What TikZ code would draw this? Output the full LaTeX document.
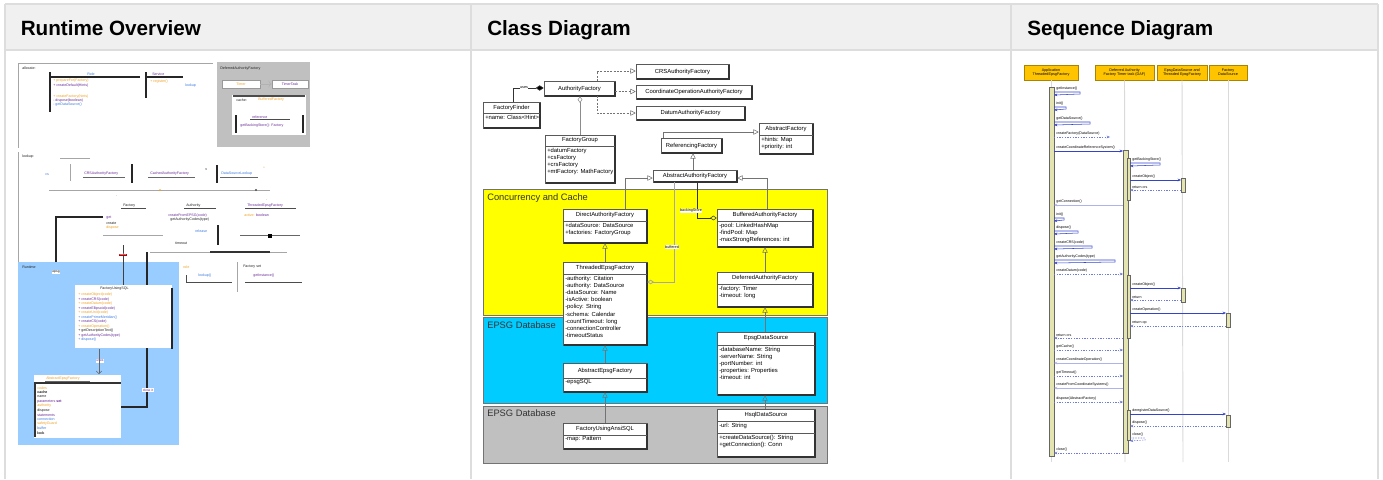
\documentclass[tikz,border=0pt]{standalone}
\usepackage{fontspec}
\setmainfont{Liberation Sans}
\usetikzlibrary{arrows.meta}
\definecolor{tblborder}{HTML}{DDDDDD}
\definecolor{headbg}{HTML}{F0F0F0}
\definecolor{bandyellow}{HTML}{FFFF00}
\definecolor{bandcyan}{HTML}{00CCFF}
\definecolor{bandgray}{HTML}{C0C0C0}
\definecolor{areablue}{HTML}{99CCFF}
\definecolor{headgold}{HTML}{FFC400}
\definecolor{headedge}{HTML}{A88400}
\definecolor{actfill}{HTML}{E4E4B0}
\definecolor{msgblue}{HTML}{3344CC}
\definecolor{tpurple}{HTML}{6A2A9A}
\definecolor{torange}{HTML}{F0A020}
\definecolor{tblue}{HTML}{3A7AE0}
\definecolor{lifegray}{HTML}{DADADA}
\definecolor{tdark}{HTML}{202020}

\tikzset{
  hdr/.style={font=\fontsize{15.5}{18}\selectfont\bfseries, anchor=base west, inner sep=0},
  tiny/.style={font=\fontsize{2.7}{3.2}\selectfont, inner sep=0, anchor=west},
  ctxt/.style={font=\fontsize{4.4}{5.4}\selectfont, inner sep=0},
  bandlbl/.style={font=\fontsize{7}{8}\selectfont, inner sep=0, anchor=north west, text=black!80},
  clsbox/.style={draw=black!65, fill=white, line width=0.4pt, inner sep=0},
  shadowline/.style={draw=black!80, line width=0.9pt},
  sepline/.style={draw=black!65, line width=0.4pt},
  realize/.style={draw=black!55, dashed, dash pattern=on 1.5pt off 1pt, line width=0.4pt, -{Triangle[open, length=4pt, width=4pt]}},
  inherit/.style={draw=black!55, line width=0.4pt, -{Triangle[open, length=4pt, width=4pt]}},
  aggr/.style={draw=black!45, line width=0.4pt, -{Diamond[open, length=5pt, width=3.5pt]}},
  compo/.style={draw=black!80, line width=0.5pt, -{Diamond[fill=black, length=6pt, width=4pt]}},
  thickblk/.style={draw=black!85, line width=1.1pt},
  thingray/.style={draw=black!35, line width=0.6pt},
  lhead/.style={draw=headedge, fill=headgold, line width=0.6pt, inner sep=0, font=\fontsize{2.8}{3.3}\selectfont, align=center},
  lifeln/.style={draw=lifegray, line width=0.7pt},
  actbar/.style={draw=black!60, fill=actfill, line width=0.4pt},
  msg/.style={draw=msgblue, line width=0.4pt, -{Stealth[length=2.5pt, width=2pt]}},
  rmsg/.style={draw=msgblue!70, line width=0.4pt, dash pattern=on 1pt off 1pt, -{Stealth[length=2.5pt, width=2pt]}},
  mlbl/.style={font=\fontsize{2.7}{3.2}\selectfont, inner sep=0, anchor=south west},
}

\newcommand\umlbox[8]{%
  \node[clsbox, minimum width={(#4-#2)*0.75pt}, minimum height={(#5-#3)*0.75pt}] (#1) at ({(#2+#4)/2},{(#3+#5)/2}) {};
  \draw[shadowline] (#4,{#3+1}) -- (#4,#5) -- ({#2+1},#5);
  \node[ctxt] (#1-t) at ({(#2+#4)/2},{(#3+#6)/2}) {#7};
  \draw[sepline] (#2,#6) -- (#4,#6);
  \node[ctxt, anchor=north west, align=left] (#1-a) at ({#2+2},{#6+1.5}) {#8};
}
\newcommand\titlebox[6]{%
  \node[clsbox, ctxt, minimum width={(#4-#2)*0.75pt}, minimum height={(#5-#3)*0.75pt}] (#1) at ({(#2+#4)/2},{(#3+#5)/2}) {#6};
  \draw[shadowline] (#4,{#3+1}) -- (#4,#5) -- ({#2+1},#5);
}
\newcommand\tx[5]{\node[tiny, text=#4] (#1) at (#2,#3) {#5};}

\begin{document}
\begin{tikzpicture}[x=0.75pt, y=-0.75pt]
\useasboundingbox (0,0) rectangle (1383,479);
\fill[white] (0,0) rectangle (1383,479);

% ---------------- table ----------------
\fill[headbg] (5,4) rectangle (1378,50);
\draw[tblborder, line width=1.4pt] (5,4) -- (1378,4);
\draw[tblborder, line width=1.4pt] (5,50) -- (1378,50);
\draw[tblborder, line width=1.4pt] (5,4) -- (5,479);
\draw[tblborder, line width=1.4pt] (471,4) -- (471,479);
\draw[tblborder, line width=1.4pt] (1011,4) -- (1011,479);
\draw[tblborder, line width=1.4pt] (1378,4) -- (1378,479);
\node[hdr] (h1) at (20.5,35) {Runtime Overview};
\node[hdr] (h2) at (487,35) {Class Diagram};
\node[hdr] (h3) at (1027,35) {Sequence Diagram};

% ================= Runtime overview =================
% panel A
\draw[thingray] (18,148) -- (18,63) -- (213,63);
\tx{ra1}{22}{68}{tdark}{allocate:}
\draw[thickblk] (50,72) -- (50,112);
\draw[thickblk] (50,77) -- (140,77);
\tx{ra2}{87}{74}{tblue}{Role}
\tx{ra3}{53}{81}{torange}{+ prepareFor(Factory)}
\tx{ra4}{53}{86}{tpurple}{+ createDefault(Hints)}
\tx{ra5}{53}{97}{torange}{+ createFactory(hints)}
\tx{ra6}{53}{101}{tpurple}{- dispose(boolean)}
\tx{ra7}{53}{105}{tblue}{- getDataSource()}
\draw[thickblk] (146,72) -- (146,98);
\draw[thickblk] (146,77) -- (183,77);
\tx{ra8}{152}{74}{tpurple}{Service}
\tx{ra9}{150}{82}{torange}{+ register()}
\tx{ra10}{185}{86}{tblue}{lookup}
% gray panel
\fill[bandgray] (217,62) rectangle (310,147);
\tx{rg1}{220}{69}{tdark}{DeferredAuthorityFactory}
\node[draw=black!40, fill=white, minimum width=28.5pt, minimum height=6pt, inner sep=0, font=\fontsize{2.7}{3}\selectfont, text=torange] (rgb1) at (241,84) {Timer};
\node[draw=black!40, fill=white, minimum width=27pt, minimum height=6pt, inner sep=0, font=\fontsize{2.7}{3}\selectfont, text=tpurple] (rgb2) at (290,84) {TimerTask};
\draw[black!30, ->] (rgb1) -- (rgb2);
\fill[white] (232,95) rectangle (306,135);
\draw[black!70, line width=1pt] (233,96) -- (305,96);
\tx{rg2}{236}{100}{tdark}{cache:}
\tx{rg3}{258}{100}{torange}{BufferedFactory}
\draw[thickblk] (236,115) -- (236,133);
\draw[thickblk] (303,115) -- (303,133);
\tx{rg4}{252}{117}{tpurple}{reference}
\draw[black!70, line width=0.6pt] (250,119) -- (290,119);
\tx{rg5}{240}{126}{tpurple}{getBackingStore(): Factory}
% panel B
\draw[thingray] (18,152) -- (18,262);
\tx{rb1}{22}{157}{tdark}{lookup:}
\draw[thingray] (60,158) -- (90,158);
\tx{rb2}{45}{175}{tblue}{cs}
\draw[thingray] (70,164) -- (70,181);
\tx{rb3}{84}{174}{tpurple}{CRSAuthorityFactory}
\draw[black!60, line width=0.5pt] (83,177) -- (125,177);
\draw[thickblk] (132,164) -- (132,183);
\tx{rb4}{150}{174}{tpurple}{CachedAuthorityFactory}
\draw[black!60, line width=0.5pt] (148,177) -- (195,177);
\tx{rb5}{205}{170}{tdark}{v}
\draw[thickblk] (217,165) -- (217,183);
\tx{rb6}{221}{174}{tblue}{DataSourceLookup}
\draw[black!60, line width=0.5pt] (220,177) -- (258,177);
\tx{rb7}{263}{168}{torange}{*}
\draw[thingray] (49,190) -- (270,190);
\fill[torange] (160,190) circle (1);
\fill[black!70] (256,190) circle (1.2);
\tx{rb8}{116}{196}{tdark}{.}
\tx{rb9}{266}{200}{tdark}{.}
\tx{rb10}{123}{206}{tdark}{Factory}
\draw[black!70, line width=0.6pt] (121,208) -- (146,208);
\tx{rb11}{186}{206}{tdark}{Authority}
\draw[black!70, line width=0.6pt] (184,208) -- (216,208);
\tx{rb12}{247}{206}{tpurple}{ThreadedEpsgFactory}
\draw[black!70, line width=0.6pt] (245,208) -- (296,208);
\tx{rb13}{106}{218}{tpurple}{get}
\tx{rb14}{106}{223}{tdark}{create}
\tx{rb15}{106}{228}{torange}{dispose}
\tx{rb16}{168}{216}{tpurple}{createFromEPSG(code)}
\tx{rb17}{170}{220}{tdark}{getAuthorityCodes(type)}
\tx{rb18}{244}{215}{torange}{active: \textcolor{tpurple}{boolean}}
\draw[thingray] (103,235) -- (163,235);
\draw[black!60, line width=0.6pt] (240,235) -- (300,235);
\fill[black] (268,234) rectangle (272,238);
\draw[thickblk] (218,225) -- (218,245);
\tx{rb19}{175}{243}{tdark}{timeout}
\tx{rb20}{195}{231}{tblue}{release}
% connectors in overview
\draw[thickblk] (103,217) -- (56,217) -- (56,368);
\draw[thingray] (150,252) -- (287,252);
\draw[black!80, line width=0.8pt] (210,252) -- (270,252);
% blue area
\fill[areablue] (18,262) rectangle (179,445);
\tx{rl1}{22}{267}{tdark}{Runtime}
\node[fill=white, inner sep=0.4pt, font=\fontsize{2.5}{3}\selectfont] (rl2) at (56,272) {epsg};
\draw[black!75, line width=0.7pt] (123,245) -- (123,285);
\node[fill=red!70!black, text=white, inner sep=0.4pt, font=\fontsize{2.5}{3}\selectfont] (rl3) at (123,255) {save};
\node[fill=white, minimum width=72.75pt, minimum height=47.25pt, inner sep=0] (rbox1) at (123.5,316.5) {};
\draw[thickblk] (172,288) -- (172,349);
\tx{rw0}{100}{289}{tdark}{FactoryUsingSQL}
\tx{rw1}{78}{295}{torange}{+ createObject(code)}
\tx{rw2}{78}{299.5}{tpurple}{+ createCRS(code)}
\tx{rw3}{78}{304}{torange}{+ createDatum(code)}
\tx{rw4}{78}{308.5}{tpurple}{+ createEllipsoid(code)}
\tx{rw5}{78}{313}{torange}{+ createUnit(code)}
\tx{rw6}{78}{317.5}{tblue}{+ createPrimeMeridian()}
\tx{rw7}{78}{322}{tpurple}{+ createCS(code)}
\tx{rw8}{78}{326.5}{torange}{+ createOperation()}
\tx{rw9}{78}{331}{tdark}{+ getDescriptionText()}
\tx{rw10}{78}{335.5}{tpurple}{+ getAuthorityCodes(type)}
\tx{rw11}{78}{340}{tblue}{+ dispose()}
\draw[thickblk] (147,252) -- (147,285);
\draw[thickblk] (147,348) -- (147,407) -- (121,407);
\node[fill=white, inner sep=0.5pt, font=\fontsize{2.5}{3}\selectfont, text=tpurple] (rl4) at (100,361) {uses};
\draw[black!60, line width=0.4pt, -{Straight Barb[length=2pt]}] (99,349) -- (99,374);
\node[fill=white, minimum width=65.25pt, minimum height=47.25pt, inner sep=0] (rbox2) at (77.5,406.5) {};
\draw[black!80, line width=1pt] (34,383) -- (121,383);
\draw[black!80, line width=1pt] (35,383) -- (35,437);
\tx{rv0}{46}{379}{torange}{AbstractEpsgFactory}
\draw[black!60, line width=0.5pt] (45,381) -- (90,381);
\tx{rv1}{37}{388}{torange}{codes}
\tx{rv2}{37}{392.5}{tdark}{\textbf{cache}}
\tx{rv3}{37}{397}{tdark}{name}
\tx{rv4}{37}{401.5}{tpurple}{parameters \textbf{set}}
\tx{rv5}{37}{406}{torange}{authority}
\tx{rv6}{37}{410.5}{tdark}{dispose}
\tx{rv7}{37}{415}{tpurple}{statements}
\tx{rv8}{37}{419.5}{tblue}{connection}
\tx{rv9}{37}{424}{torange}{safetyGuard}
\tx{rv10}{37}{428.5}{tblue}{buffer}
\tx{rv11}{37}{433}{tdark}{\textbf{lock}}
\node[fill=white, inner sep=0.5pt, font=\fontsize{2.5}{3}\selectfont, text=tpurple] (rl5) at (148,390) {close it};
% right of blue
\tx{rx1}{183}{267}{torange}{role}
\draw[black!70, line width=0.6pt] (186,275) -- (186,282) -- (232,282);
\tx{rx2}{198}{276}{tblue}{lookup()}
\draw[thingray] (237,262) -- (237,292);
\tx{rx3}{243}{267}{tdark}{Factory set}
\tx{rx4}{253}{276}{tpurple}{getInstance()}
\draw[black!70, line width=0.6pt] (245,282) -- (302,282);

% ================= Class diagram =================
\draw[fill=bandyellow, draw=black!55, line width=0.5pt] (483,189) rectangle (827,315);
\draw[fill=bandcyan, draw=black!55, line width=0.5pt] (483,317) rectangle (827,403);
\draw[fill=bandgray, draw=black!55, line width=0.5pt] (483,406) rectangle (827,463);
\node[bandlbl] (bl1) at (487,193) {Concurrency and Cache};
\node[bandlbl] (bl2) at (487,321) {EPSG Database};
\node[bandlbl] (bl3) at (487,409) {EPSG Database};

\titlebox{af}{544}{81}{615}{96}{AuthorityFactory}
\titlebox{i1}{636}{64}{729}{79}{CRSAuthorityFactory}
\titlebox{i2}{636}{85}{752}{99}{CoordinateOperationAuthorityFactory}
\titlebox{i3}{636}{106}{745}{120}{DatumAuthorityFactory}
\umlbox{ff}{483}{102}{540}{128}{113}{FactoryFinder}{+name: Class\string<Hint\string>}
\umlbox{fg}{545}{135}{615}{183}{146}{FactoryGroup}{+datumFactory\\+csFactory\\+crsFactory\\+mtFactory: MathFactory}
\umlbox{absf}{759}{123}{813}{154}{135}{AbstractFactory}{+hints: Map\\+priority: int}
\titlebox{reff}{661}{138}{722}{153}{ReferencingFactory}
\titlebox{aaf}{653}{170}{737}{182}{AbstractAuthorityFactory}
\umlbox{daf}{563}{209}{647}{243}{221}{DirectAuthorityFactory}{+dataSource: DataSource\\+factories: FactoryGroup}
\umlbox{baf}{717}{209}{813}{247}{221}{BufferedAuthorityFactory}{-pool: LinkedHashMap\\-findPool: Map\\-maxStrongReferences: int}
\umlbox{tef}{563}{262}{647}{345}{274}{ThreadedEpsgFactory}{-authority: Citation\\-authority: DataSource\\-dataSource: Name\\-isActive: boolean\\-policy: String\\-schema: Calendar\\-countTimeout: long\\-connectionController\\-timeoutStatus}
\umlbox{dfr}{717}{272}{813}{307}{284}{DeferredAuthorityFactory}{-factory: Timer\\-timeout: long}
\umlbox{aef}{563}{363}{647}{392}{378}{AbstractEpsgFactory}{-epsgSQL}
\umlbox{eds}{717}{332}{815}{395}{345}{EpsgDataSource}{-databaseName: String\\-serverName: String\\-portNumber: int\\-properties: Properties\\-timeout: int}
\umlbox{fas}{563}{423}{647}{449}{435}{FactoryUsingAnsiSQL}{-map: Pattern}
\umlbox{hds}{717}{409}{815}{457}{421}{HsqlDataSource}{-url: String}
\draw[sepline] (717,433) -- (815,433);
\node[ctxt, anchor=north west, align=left] (hds-o) at (719,434.5) {+createDataSource(): String\\+getConnection(): Conn};

% connectors
\draw[realize] (597,81) -- (597,71) -- (i1.west |- 0,71);
\draw[realize] (af.east |- 0,91.5) -- (i2.west |- 0,91.5);
\draw[realize] (597,96) -- (597,113) -- (i3.west |- 0,113);
\draw[compo] (ff.north -| 513,0) -- (513,88) -- (af.west |- 0,88);
\node[fill=white, inner sep=0.3pt, font=\fontsize{2.8}{3.2}\selectfont] (uses) at (524,88) {uses};
\draw[aggr] (fg.north -| 580,0) -- (af.south -| 580,0);
\draw[inherit] (reff.north -| 663,0) -- (663,132) -- (absf.west |- 0,132);
\draw[inherit] (aaf.north -| 693,0) -- (reff.south -| 693,0);
\draw[inherit] (daf.north -| 625,0) -- (625,178) -- (aaf.west |- 0,178);
\draw[inherit] (baf.north -| 767,0) -- (767,178) -- (aaf.east |- 0,178);
\draw[aggr, draw=black!80] (aaf.south -| 697,0) -- (697,218) -- (baf.west |- 0,218);
\node[fill=white, inner sep=0.3pt, font=\fontsize{2.8}{3.2}\selectfont] (bs) at (691,211) {backingStore};
\draw[thingray, -{Diamond[open, length=5pt, width=3.5pt]}] (aaf.south -| 674,0) -- (674,282) -- (tef.east |- 0,282);
\node[fill=white, inner sep=0.3pt, font=\fontsize{2.8}{3.2}\selectfont] (bf) at (672,247) {buffered};
\draw[inherit] (tef.north -| 605,0) -- (daf.south -| 605,0);
\draw[inherit] (dfr.north -| 765,0) -- (baf.south -| 765,0);
\draw[inherit] (aef.north -| 605,0) -- (tef.south -| 605,0);
\draw[inherit] (eds.north -| 765,0) -- (dfr.south -| 765,0);
\draw[inherit] (fas.north -| 605,0) -- (aef.south -| 605,0);
\draw[inherit] (hds.north -| 765,0) -- (eds.south -| 765,0);

% ================= Sequence diagram =================
\node[lhead, minimum width=40.5pt, minimum height=11.25pt] (L1) at (1051,72.5) {Application\\ThreadedEpsgFactory};
\node[lhead, minimum width=44.25pt, minimum height=11.25pt] (L2) at (1124.5,72.5) {Deferred Authority\\Factory Timer task (DAF)};
\node[lhead, minimum width=37.5pt, minimum height=11.25pt] (L3) at (1182,72.5) {EpsgDataSource and\\Threaded EpsgFactory};
\node[lhead, minimum width=28.5pt, minimum height=11.25pt] (L4) at (1228,72.5) {Factory\\DataSource};
\coordinate (E1) at (1051,462);
\coordinate (E2) at (1125,462);
\coordinate (E3) at (1183,462);
\coordinate (E4) at (1228,462);
\draw[lifeln] (L1.south) -- (E1);
\draw[lifeln] (L2.south) -- (E2);
\draw[lifeln] (L3.south) -- (E3);
\draw[lifeln] (L4.south) -- (E4);
\draw[actbar] (1049,87) rectangle (1054,456);
\draw[actbar] (1123,150) rectangle (1128,453);
\draw[actbar] (1127,158) rectangle (1130,200);
\draw[actbar] (1127,275) rectangle (1130,338);
\draw[actbar] (1127,410) rectangle (1130,440);
\draw[actbar] (1181,178) rectangle (1185,192);
\draw[actbar] (1181,288) rectangle (1185,302);
\draw[actbar] (1226,313) rectangle (1230,327);
\draw[actbar] (1226,415) rectangle (1230,427);

% self calls on lifeline 1
\draw[msg] (1054,92) -- (1080,92) -- (1080,94) -- (1054,95);
\node[mlbl] (m1) at (1056,91) {getInstance()};
\draw[msg] (1054,107) -- (1066,107) -- (1066,109) -- (1054,110);
\node[mlbl] (m2) at (1056,106) {init()};
\draw[msg] (1054,122) -- (1090,122) -- (1090,124) -- (1054,125);
\node[mlbl] (m3) at (1056,121) {getDataSource()};
\draw[rmsg] (1054,137) -- (1110,137);
\node[mlbl] (m4) at (1056,136) {createFactory(DataSource)};
\draw[msg] (1054,151) -- (1123,151);
\node[mlbl] (m5) at (1056,150) {createCoordinateReferenceSystem()};
\draw[msg] (1130,163) -- (1160,163) -- (1160,165) -- (1130,166);
\node[mlbl] (m6) at (1132,162) {getBackingStore()};
\draw[msg] (1130,180) -- (1181,180);
\node[mlbl] (m7) at (1132,179) {createObject()};
\draw[rmsg] (1181,190) -- (1130,190);
\node[mlbl] (m8) at (1132,189) {return crs};
\draw[msg, draw=msgblue!40] (1123,205) -- (1054,205);
\node[mlbl] (m9) at (1056,204) {getConnection()};
\draw[msg] (1054,218) -- (1064,218) -- (1064,220) -- (1054,221);
\node[mlbl] (m10) at (1056,217) {init()};
\draw[msg] (1054,231) -- (1078,231) -- (1078,233) -- (1054,234);
\node[mlbl] (m11) at (1056,230) {dispose()};
\draw[msg] (1054,246) -- (1092,246) -- (1092,248) -- (1054,249);
\node[mlbl] (m12) at (1056,245) {createCRS(code)};
\draw[msg] (1054,260) -- (1115,260) -- (1115,262) -- (1054,263);
\node[mlbl] (m13) at (1056,259) {getAuthorityCodes(type)};
\draw[rmsg] (1054,274) -- (1123,274);
\node[mlbl] (m14) at (1056,273) {createDatum(code)};
\draw[msg] (1130,288) -- (1181,288);
\node[mlbl] (m15) at (1132,287) {createObject()};
\draw[rmsg] (1181,300) -- (1130,300);
\node[mlbl] (m16) at (1132,299) {return};
\draw[msg] (1130,313) -- (1226,313);
\node[mlbl] (m17) at (1132,312) {createOperation()};
\draw[rmsg] (1226,326) -- (1130,326);
\node[mlbl] (m18) at (1132,325) {return op};
\draw[rmsg] (1123,338) -- (1054,338);
\node[mlbl] (m19) at (1056,337) {return crs};
\draw[rmsg] (1054,350) -- (1123,350);
\node[mlbl] (m20) at (1056,349) {getCache()};
\draw[msg, draw=msgblue!40] (1123,363) -- (1054,363);
\node[mlbl] (m21) at (1056,362) {createCoordinateOperation()};
\draw[rmsg] (1054,376) -- (1123,376);
\node[mlbl] (m22) at (1056,375) {getTimeout()};
\draw[msg, draw=msgblue!40] (1123,388) -- (1054,388);
\node[mlbl] (m23) at (1056,387) {createFromCoordinateSystems()};
\draw[rmsg] (1054,402) -- (1123,402);
\node[mlbl] (m24) at (1056,401) {dispose(AbstractFactory)};
\draw[msg] (1130,414) -- (1226,414);
\node[mlbl] (m25) at (1132,413) {deregisterDataSource()};
\draw[rmsg] (1226,426) -- (1130,426);
\node[mlbl] (m26) at (1132,425) {dispose()};
\draw[rmsg] (1130,438) -- (1145,438) -- (1145,440) -- (1130,441);
\node[mlbl] (m27) at (1132,437) {close()};
\draw[rmsg] (1123,453) -- (1054,453);
\node[mlbl] (m28) at (1056,452) {close()};
\end{tikzpicture}
\end{document}
